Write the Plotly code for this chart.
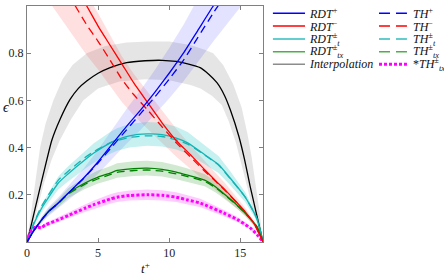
import plotly.graph_objects as go

# ---------------- data ----------------
T_INTERP = [0, 0.33, 0.8, 1.2, 1.74, 2.32, 3.03, 3.6, 4.2, 5.0, 5.85, 7.0, 8.3, 9.5, 10.5,
            11.3, 12.18, 12.8, 13.36, 13.9, 14.3, 14.9, 15.3, 15.7, 16.1, 16.6]
EPS_INTERP = [0, 0.08, 0.2, 0.3, 0.43, 0.519, 0.604, 0.65, 0.682, 0.715, 0.739, 0.76, 0.768, 0.77,
              0.765, 0.755, 0.739, 0.71, 0.675, 0.62, 0.56, 0.448, 0.35, 0.235, 0.13, 0]

GRAY_UP_T = [0, 0.4, 0.92, 1.3, 1.85, 2.5, 3.2, 4.2, 5.5, 7.0, 8.5, 10.0, 11.5, 12.5, 13.1,
             13.8, 14.5, 15.1, 15.5, 15.8, 16.1, 16.35, 16.6]
GRAY_UP = [0, 0.17, 0.40, 0.5, 0.6, 0.69, 0.75, 0.8, 0.83, 0.845, 0.85, 0.85, 0.835, 0.815, 0.8,
           0.75, 0.67, 0.57, 0.46, 0.36, 0.24, 0.13, 0]
GRAY_LO_T = [0, 0.5, 1.2, 1.74, 2.3, 3.1, 3.95, 5.0, 6.5, 8.3, 10.0, 11.5, 12.2, 13.0, 13.7,
             14.2, 14.7, 15.1, 15.5, 15.9, 16.6]
GRAY_LO = [0, 0.09, 0.25, 0.35, 0.43, 0.52, 0.6, 0.65, 0.68, 0.69, 0.685, 0.665, 0.65, 0.62, 0.58,
           0.51, 0.42, 0.33, 0.23, 0.13, 0]

T_T = [0, 0.5, 1.03, 1.41, 2.2, 2.82, 4.08, 4.7, 5.85, 6.34, 7.2, 8.45, 9.5, 10.5, 11.3, 12.5,
       13.47, 14.3, 15.35, 16.17, 16.6]
EPS_RDT_T = [0, 0.08, 0.143, 0.179, 0.25, 0.285, 0.349, 0.377, 0.42, 0.434, 0.45, 0.458, 0.455,
             0.44, 0.42, 0.37, 0.328, 0.27, 0.19, 0.1, 0]
EPS_TH_T = [0, 0.085, 0.152, 0.19, 0.262, 0.296, 0.358, 0.383, 0.42, 0.43, 0.443, 0.45, 0.447,
            0.433, 0.415, 0.368, 0.326, 0.268, 0.19, 0.1, 0]

T_TX = [0, 0.5, 1.03, 1.5, 2.2, 2.9, 4.08, 5.0, 5.85, 6.34, 7.5, 8.45, 9.5, 10.5, 11.3, 12.5,
        13.3, 13.94, 14.8, 15.35, 16.17, 16.6]
EPS_RDT_TX = [0, 0.05, 0.094, 0.128, 0.165, 0.207, 0.25, 0.275, 0.292, 0.303, 0.311, 0.313, 0.308,
              0.296, 0.283, 0.262, 0.232, 0.2, 0.155, 0.122, 0.065, 0]
EPS_TH_TX = [0, 0.05, 0.094, 0.127, 0.163, 0.203, 0.245, 0.268, 0.285, 0.295, 0.303, 0.305, 0.3,
             0.289, 0.277, 0.257, 0.229, 0.198, 0.154, 0.121, 0.065, 0]

T_STAR = [0, 0.15, 0.33, 0.55, 0.8, 1.0, 1.27, 2.2, 3.0, 4.08, 4.7, 5.85, 6.34, 7.2, 8.45, 9.5,
          10.5, 11.3, 12.2, 13.94, 14.8, 15.7, 16.2, 16.6]
EPS_STAR_TH_TX = [0, 0.03, 0.051, 0.062, 0.062, 0.06, 0.072, 0.094, 0.115, 0.143, 0.158, 0.182,
                  0.19, 0.197, 0.2, 0.198, 0.19, 0.178, 0.165, 0.12, 0.095, 0.06, 0.03, 0]

T_PLUS = [0, 0.5, 1.03, 1.5, 2.2, 2.9, 4.0, 5.0, 6.0, 7.0, 8.0, 9.0, 10.0, 11.0, 12.0, 13.1, 15.0]
EPS_RDT_PLUS = [0, 0.05, 0.094, 0.128, 0.165, 0.207, 0.272, 0.34, 0.415, 0.49, 0.56, 0.635, 0.715,
                0.8, 0.895, 1.0, 1.17]
EPS_TH_PLUS = [0, 0.05, 0.094, 0.128, 0.165, 0.207, 0.27, 0.335, 0.405, 0.475, 0.545, 0.615, 0.69,
               0.77, 0.865, 0.97, 1.14]

T_MINUS = [1.5, 2.5, 3.4, 4.2, 5.0, 5.8, 6.67, 7.5, 8.55, 9.5, 10.54, 11.5, 12.5, 13.3, 13.94,
           14.8, 15.35, 16.0, 16.6]
EPS_RDT_MINUS = [1.27, 1.17, 1.08, 1.0, 0.915, 0.838, 0.755, 0.675, 0.585, 0.505, 0.427, 0.37,
                 0.306, 0.258, 0.221, 0.165, 0.128, 0.075, 0]
EPS_TH_MINUS = [1.19, 1.09, 1.0, 0.92, 0.85, 0.775, 0.69, 0.625, 0.555, 0.488, 0.418, 0.36, 0.3,
                0.255, 0.218, 0.163, 0.127, 0.075, 0]

# relative half-width of the uncertainty bands
BAND_MINUS = 0.14
BAND_PLUS = 0.15
BAND_T = 0.11
BAND_TX = 0.10
BAND_STAR = 0.11

X_TICKS = [0, 5, 10, 15]
Y_TICKS = [0.2, 0.4, 0.6, 0.8, 1]
Y_TICK_TEXT = ["0.2", "0.4", "0.6", "0.8", "1"]

LEGEND_COL1 = ["<i>RDT</i><sup>+</sup>", "<i>RDT</i><sup>\u2212</sup>",
               "<i>RDT</i><sup>\u00b1</sup><sub><i>t</i></sub>",
               "<i>RDT</i><sup>\u00b1</sup><sub><i>tx</i></sub>", "<i>Interpolation</i>"]
LEGEND_COL2 = ["<i>TH</i><sup>+</sup>", "<i>TH</i><sup>\u2212</sup>",
               "<i>TH</i><sup>\u00b1</sup><sub><i>t</i></sub>",
               "<i>TH</i><sup>\u00b1</sup><sub><i>tx</i></sub>",
               "*<i>TH</i><sup>\u00b1</sup><sub><i>tx</i></sub>"]

# ---------------- styles ----------------
BLUE = "#0000ff"
RED = "#ff0000"
TEAL = "#14b4b4"
GREEN = "#008000"
MAGENTA = "#ff00ff"
BLACK = "#000000"
FONT = "Liberation Serif"
DASH = "8px,5px"

fig = go.Figure()


def add_band(x, y, f, color):
    up = [v * (1 + f) for v in y]
    lo = [v * (1 - f) for v in y]
    fig.add_trace(go.Scatter(x=list(x) + list(x)[::-1], y=up + lo[::-1], mode="lines",
                             fill="toself", fillcolor=color, line=dict(width=0),
                             hoverinfo="skip", showlegend=False))


fig.add_trace(go.Scatter(x=GRAY_UP_T + GRAY_LO_T[::-1], y=GRAY_UP + GRAY_LO[::-1], mode="lines",
                         fill="toself", fillcolor="rgba(0,0,0,0.10)", line=dict(width=0),
                         hoverinfo="skip", showlegend=False))
add_band(T_MINUS, EPS_TH_MINUS, BAND_MINUS, "rgba(255,0,0,0.12)")
add_band(T_PLUS, EPS_RDT_PLUS, BAND_PLUS, "rgba(0,0,255,0.11)")
add_band(T_T, EPS_RDT_T, BAND_T, "rgba(0,185,185,0.22)")
add_band(T_TX, EPS_RDT_TX, BAND_TX, "rgba(0,128,0,0.18)")
add_band(T_STAR, EPS_STAR_TH_TX, BAND_STAR, "rgba(255,0,255,0.20)")


def add_line(x, y, color, dash="solid", width=1.3):
    fig.add_trace(go.Scatter(x=x, y=y, mode="lines",
                             line=dict(color=color, width=width, dash=dash, shape="spline",
                                       smoothing=0.5),
                             hoverinfo="skip", showlegend=False))


add_line(T_INTERP, EPS_INTERP, BLACK)
add_line(T_T, EPS_RDT_T, TEAL)
add_line(T_T, EPS_TH_T, TEAL, DASH)
add_line(T_TX, EPS_RDT_TX, GREEN)
add_line(T_TX, EPS_TH_TX, GREEN, DASH)
add_line(T_STAR, EPS_STAR_TH_TX, MAGENTA, "3px,2px", 3)
add_line(T_MINUS, EPS_RDT_MINUS, RED)
add_line(T_MINUS, EPS_TH_MINUS, RED, DASH)
add_line(T_PLUS, EPS_RDT_PLUS, BLUE)
add_line(T_PLUS, EPS_TH_PLUS, BLUE, DASH)

# ---------------- manual legend (two columns) ----------------
ROW_Y = [0.969, 0.915, 0.860, 0.806, 0.753]
COL1_COLORS = [BLUE, RED, "#30bcbc", "#4caf4c", "#8c8c8c"]
COL2_COLORS = [BLUE, RED, "#30bcbc", "#4caf4c", MAGENTA]
shapes = []
annotations = []
for i, (txt, col) in enumerate(zip(LEGEND_COL1, COL1_COLORS)):
    shapes.append(dict(type="line", xref="paper", yref="paper", x0=1.042, x1=1.178,
                       y0=ROW_Y[i], y1=ROW_Y[i], line=dict(color=col, width=1.6)))
    annotations.append(dict(xref="paper", yref="paper", x=1.188, y=ROW_Y[i], text=txt,
                            showarrow=False, xanchor="left", yanchor="middle",
                            font=dict(family=FONT, size=12, color="#111")))
for i, (txt, col) in enumerate(zip(LEGEND_COL2, COL2_COLORS)):
    if i < 4:
        ln = dict(color=col, width=1.6, dash="11px,6px")
    else:
        ln = dict(color=col, width=3, dash="3px,2px")
    shapes.append(dict(type="line", xref="paper", yref="paper", x0=1.4915, x1=1.610,
                       y0=ROW_Y[i], y1=ROW_Y[i], line=ln))
    annotations.append(dict(xref="paper", yref="paper", x=1.628, y=ROW_Y[i], text=txt,
                            showarrow=False, xanchor="left", yanchor="middle",
                            font=dict(family=FONT, size=12, color="#111")))

# axis labels
annotations.append(dict(xref="paper", yref="paper", x=-0.088, y=0.572, text="<i>\u03f5</i>",
                        showarrow=False, xanchor="center", yanchor="middle",
                        font=dict(family=FONT, size=14, color="#111")))
annotations.append(dict(xref="paper", yref="paper", x=0.5, y=-0.11, text="<i>t</i><sup>+</sup>",
                        showarrow=False, xanchor="center", yanchor="middle",
                        font=dict(family=FONT, size=13, color="#111")))

axis_common = dict(showgrid=False, zeroline=False, ticks="inside", ticklen=4, tickwidth=1,
                   tickcolor="#808080", showline=True, linecolor="#808080", linewidth=1,
                   mirror="allticks", tickfont=dict(family=FONT, size=12, color="#222"))

fig.update_layout(
    width=444, height=275,
    margin=dict(l=27, r=181, t=6, b=33),
    plot_bgcolor="white", paper_bgcolor="white",
    showlegend=False,
    font=dict(family=FONT, size=12, color="#111"),
    shapes=shapes, annotations=annotations,
    xaxis=dict(range=[0, 16.6], tickvals=X_TICKS, **axis_common),
    yaxis=dict(range=[0, 1], tickvals=Y_TICKS, ticktext=Y_TICK_TEXT, **axis_common),
)

fig.write_html("out.html", config={"displayModeBar": False},
               post_script="document.body.style.margin='0';")
